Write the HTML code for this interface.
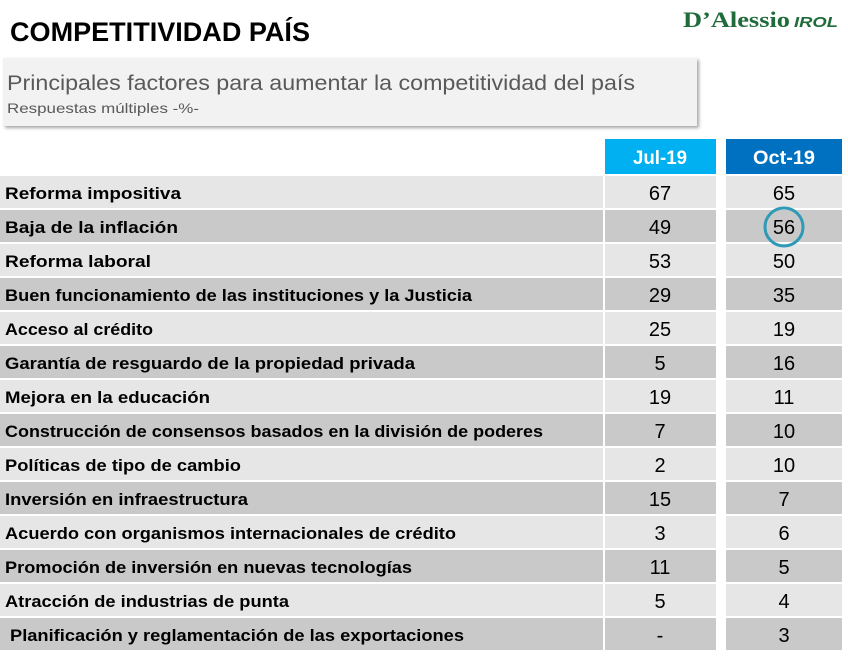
<!DOCTYPE html>
<html><head><meta charset="utf-8"><style>
body{margin:0;background:#fff}
svg{display:block}
text{font-family:"Liberation Sans",sans-serif}
</style></head><body>
<svg width="848" height="662" viewBox="0 0 848 662" xmlns="http://www.w3.org/2000/svg">
<defs><filter id="sh" x="-5%" y="-10%" width="110%" height="130%"><feDropShadow dx="2" dy="2" stdDeviation="1.5" flood-color="#000" flood-opacity="0.35"/></filter></defs>
<text x="10" y="41" font-size="27" font-weight="bold" textLength="300" lengthAdjust="spacingAndGlyphs" fill="#000">COMPETITIVIDAD PAÍS</text>
<text x="683" y="27" font-size="22" font-weight="bold" fill="#1f6b3a" textLength="107" lengthAdjust="spacingAndGlyphs" style="font-family:'Liberation Serif',serif">D’Alessio</text>
<text x="794" y="27" font-size="15" font-weight="bold" font-style="italic" fill="#1f6b3a" textLength="44" lengthAdjust="spacingAndGlyphs">IROL</text>
<rect x="3" y="58" width="694" height="68" fill="#f2f2f2" filter="url(#sh)"/>
<text x="7" y="90" font-size="21" fill="#595959" textLength="628" lengthAdjust="spacingAndGlyphs">Principales factores para aumentar la competitividad del país</text>
<text x="7" y="113" font-size="14" fill="#595959" textLength="192" lengthAdjust="spacingAndGlyphs">Respuestas múltiples -%-</text>
<rect x="605" y="139" width="111" height="35" fill="#00b0f0"/>
<rect x="726" y="139" width="116" height="35" fill="#0070c0"/>
<text x="660" y="164" font-size="19" font-weight="bold" fill="#fff" text-anchor="middle" textLength="54" lengthAdjust="spacingAndGlyphs">Jul-19</text>
<text x="784" y="164" font-size="19" font-weight="bold" fill="#fff" text-anchor="middle" textLength="62" lengthAdjust="spacingAndGlyphs">Oct-19</text>
<g id="rows"></g>
<circle cx="784" cy="227" r="19" fill="none" stroke="#2e9ab5" stroke-width="3"/>
</svg>
<script>
var d=[["Reforma impositiva","67","65",176],["Baja de la inflación","49","56",173],["Reforma laboral","53","50",146],["Buen funcionamiento de las instituciones y la Justicia","29","35",467],["Acceso al crédito","25","19",148],["Garantía de resguardo de la propiedad privada","5","16",410],["Mejora en la educación","19","11",205],["Construcción de consensos basados en la división de poderes","7","10",538],["Políticas de tipo de cambio","2","10",236],["Inversión en infraestructura","15","7",243],["Acuerdo con organismos internacionales de crédito","3","6",451],["Promoción de inversión en nuevas tecnologías","11","5",407],["Atracción de industrias de punta","5","4",284],["Planificación y reglamentación de las exportaciones","-","3",454]];
var g=document.getElementById("rows"),s="";
d.forEach(function(r,i){var y=176+i*34,c=i%2?"#c9c9c9":"#e6e6e6";
s+='<rect x="0" y="'+y+'" width="603" height="32" fill="'+c+'"/><rect x="605" y="'+y+'" width="111" height="32" fill="'+c+'"/><rect x="726" y="'+y+'" width="116" height="32" fill="'+c+'"/>';
var lx=i==13?10:5;
s+='<text x="'+lx+'" y="'+(y+23)+'" font-size="17" font-weight="bold" fill="#000" textLength="'+r[3]+'" lengthAdjust="spacingAndGlyphs">'+r[0]+'</text>';
s+='<text x="660" y="'+(y+24)+'" font-size="20" fill="#000" text-anchor="middle">'+r[1]+'</text>';
s+='<text x="784" y="'+(y+24)+'" font-size="20" fill="#000" text-anchor="middle">'+r[2]+'</text>';});
g.innerHTML=s;
</script>
</body></html>
